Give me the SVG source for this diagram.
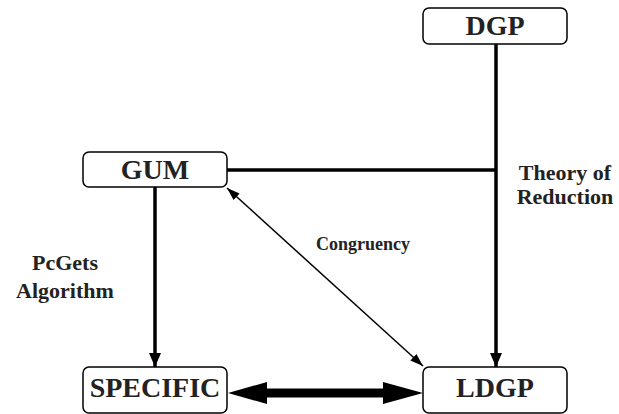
<svg xmlns="http://www.w3.org/2000/svg" width="619" height="414" viewBox="0 0 619 414">
<defs>
<style>
.box{fill:#fff;stroke:#000;stroke-width:1.5}
.lbl{font-family:"Liberation Serif","Times New Roman",serif;font-weight:bold;fill:#222;text-anchor:middle}
.node{font-size:28px}
.note{font-size:22px}
.thick{stroke:#000;stroke-width:3.5;fill:none}
.thin{stroke:#000;stroke-width:1.5;fill:none}
</style>
<marker id="ah" viewBox="0 0 14 12" refX="14" refY="6" markerWidth="14" markerHeight="12" markerUnits="userSpaceOnUse" orient="auto">
<path d="M0,0 L14,6 L0,12 z" fill="#000"/>
</marker>
<marker id="ahs" viewBox="0 0 13 9" refX="13" refY="4.5" markerWidth="13" markerHeight="9" markerUnits="userSpaceOnUse" orient="auto-start-reverse">
<path d="M0,0 L13,4.5 L0,9 z" fill="#000"/>
</marker>
</defs>
<g id="connectors">
<line class="thick" x1="496" y1="44" x2="496" y2="367" marker-end="url(#ah)"/>
<line class="thick" x1="227" y1="170" x2="496" y2="170"/>
<line class="thick" x1="155" y1="187" x2="155" y2="367" marker-end="url(#ah)"/>
<line class="thin" x1="227" y1="188" x2="423" y2="366" marker-start="url(#ahs)" marker-end="url(#ahs)"/>
<polygon points="228,393 267,382 267,388.5 383,388.5 383,382 423,393 383,404 383,397.5 267,397.5 267,404" fill="#000"/>
</g>
<g id="DGP">
<rect class="box" x="423" y="8" width="144" height="36" rx="6"/>
<text class="lbl node" x="495" y="35">DGP</text>
</g>
<g id="GUM">
<rect class="box" x="83" y="152" width="144" height="35" rx="6"/>
<text class="lbl node" x="155" y="179">GUM</text>
</g>
<g id="SPECIFIC">
<rect class="box" x="83" y="367" width="144" height="46" rx="6"/>
<text class="lbl node" x="155" y="397">SPECIFIC</text>
</g>
<g id="LDGP">
<rect class="box" x="423" y="367" width="144" height="46" rx="6"/>
<text class="lbl node" x="495" y="397">LDGP</text>
</g>
<g id="labels">
<text class="lbl note" x="65" y="270">PcGets</text>
<text class="lbl note" x="65" y="298">Algorithm</text>
<text class="lbl note" x="565" y="180">Theory of</text>
<text class="lbl note" x="565" y="204">Reduction</text>
<text class="lbl" style="font-size:18px" x="363" y="250">Congruency</text>
</g>
</svg>
